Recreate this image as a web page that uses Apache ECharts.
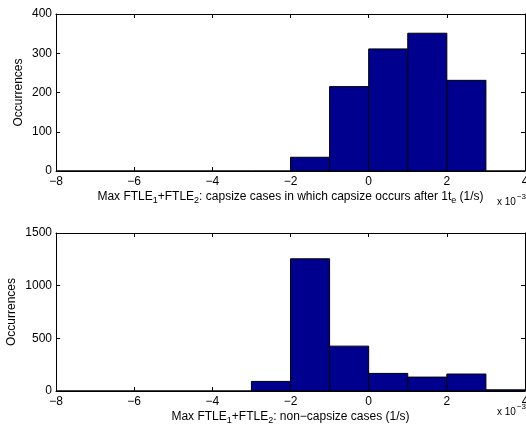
<!DOCTYPE html>
<html>
<head>
<meta charset="utf-8">
<script src="https://cdn.jsdelivr.net/npm/echarts@6/dist/echarts.min.js"></script>
<style>html,body{margin:0;padding:0;background:#fff}#c{width:526px;height:428px}</style>
</head>
<body>
<div id="c"></div>
<script>
// Histogram bins (x in units of 1e-3 1/s)
const binStarts = [-8, -7, -6, -5, -4, -3, -2, -1, 0, 1, 2, 3];
const binWidth = 1;
const topCounts = [0, 0, 0, 0, 0, 0, 35, 215, 311, 351, 231, 0];
const bottomCounts = [0, 0, 0, 0, 0, 91, 1255, 426, 167, 132, 161, 11];
const xTicks = [-8, -6, -4, -2, 0, 2, 4];
const topYTicks = [0, 100, 200, 300, 400];
const bottomYTicks = [0, 500, 1000, 1500];

const FONT = "'Liberation Sans', Arial, Helvetica, sans-serif";
const chart = echarts.init(document.getElementById('c'));

function toData(counts) {
  return binStarts.map((s, i) => [s, s + binWidth, counts[i]]);
}
function renderItem(params, api) {
  const p0 = api.coord([api.value(0), 0]);
  const p1 = api.coord([api.value(1), api.value(2)]);
  return {
    type: 'rect',
    shape: { x: p0[0], y: p1[1], width: p1[0] - p0[0], height: p0[1] - p1[1] },
    style: { fill: '#00008F', stroke: '#000', lineWidth: 1 }
  };
}
const minus = v => String(v).replace('-', '\u2212');
const rich = {
  a: { fontSize: 12, fontFamily: FONT, color: '#000' },
  s: { fontSize: 9, fontFamily: FONT, color: '#000', verticalAlign: 'bottom', padding: [7, 0, 0, 0] }
};
const grids = [
  { left: 56, right: 1, top: 14, height: 157, outerBoundsMode: 'none', containLabel: false },
  { left: 56, right: 1, top: 233, height: 158, outerBoundsMode: 'none', containLabel: false }
];
function xAxisPair(gi, name) {
  const base = {
    gridIndex: gi, type: 'value', min: xTicks[0], max: xTicks[xTicks.length - 1],
    interval: xTicks[1] - xTicks[0], splitLine: { show: false },
    axisLine: { show: true, onZero: false, lineStyle: { color: '#000', width: 1 } },
    axisTick: { show: true, inside: true, length: 4, lineStyle: { color: '#000' } }
  };
  return [
    Object.assign({}, base, {
      position: 'bottom',
      axisLabel: { formatter: minus, fontSize: 12, fontFamily: FONT, color: '#000', margin: 5 },
      name: name, nameLocation: 'middle', nameGap: 18,
      nameTextStyle: { rich: rich }
    }),
    Object.assign({}, base, { position: 'top', axisLabel: { show: false } })
  ];
}
function yAxisPair(gi, ticks) {
  const base = {
    gridIndex: gi, type: 'value', min: ticks[0], max: ticks[ticks.length - 1],
    interval: ticks[1] - ticks[0], splitLine: { show: false },
    axisLine: { show: true, onZero: false, lineStyle: { color: '#000', width: 1 } },
    axisTick: { show: true, inside: true, length: 4, lineStyle: { color: '#000' } }
  };
  return [
    Object.assign({}, base, {
      position: 'left',
      axisLabel: { formatter: v => String(v), fontSize: 12, fontFamily: FONT, color: '#000', margin: 4 },
      name: 'Occurrences', nameLocation: 'middle', nameRotate: 90,
      nameMoveOverlap: false,
      nameGap: gi === 0 ? 31 : 38,
      nameTextStyle: { fontSize: 12, fontFamily: FONT, color: '#000' }
    }),
    Object.assign({}, base, { position: 'right', axisLabel: { show: false } })
  ];
}
const topName = '{a|Max FTLE}{s|1}{a|+FTLE}{s|2}{a|: capsize cases in which capsize occurs after 1t}{s|e}{a| (1/s)}';
const botName = '{a|Max FTLE}{s|1}{a|+FTLE}{s|2}{a|: non\u2212capsize cases (1/s)}';
const expRich = {
  a: { fontSize: 10, fontFamily: FONT, color: '#000', verticalAlign: 'bottom' },
  p: { fontSize: 8, fontFamily: FONT, color: '#000', verticalAlign: 'top', padding: [0, 0, 6, 1] }
};

const option = {
  animation: false,
  backgroundColor: '#fff',
  grid: grids,
  xAxis: [...xAxisPair(0, topName), ...xAxisPair(1, botName)],
  yAxis: [...yAxisPair(0, topYTicks), ...yAxisPair(1, bottomYTicks)],
  series: [
    { type: 'custom', xAxisIndex: 0, yAxisIndex: 0, data: toData(topCounts), renderItem: renderItem },
    { type: 'custom', xAxisIndex: 2, yAxisIndex: 2, data: toData(bottomCounts), renderItem: renderItem }
  ],
  graphic: [
    { type: 'text', left: 497, top: 193, style: { text: '{a|x 10}{p|\u22123}', rich: expRich } },
    { type: 'text', left: 497, top: 403, style: { text: '{a|x 10}{p|\u22123}', rich: expRich } }
  ]
};
chart.setOption(option);
</script>
</body>
</html>
